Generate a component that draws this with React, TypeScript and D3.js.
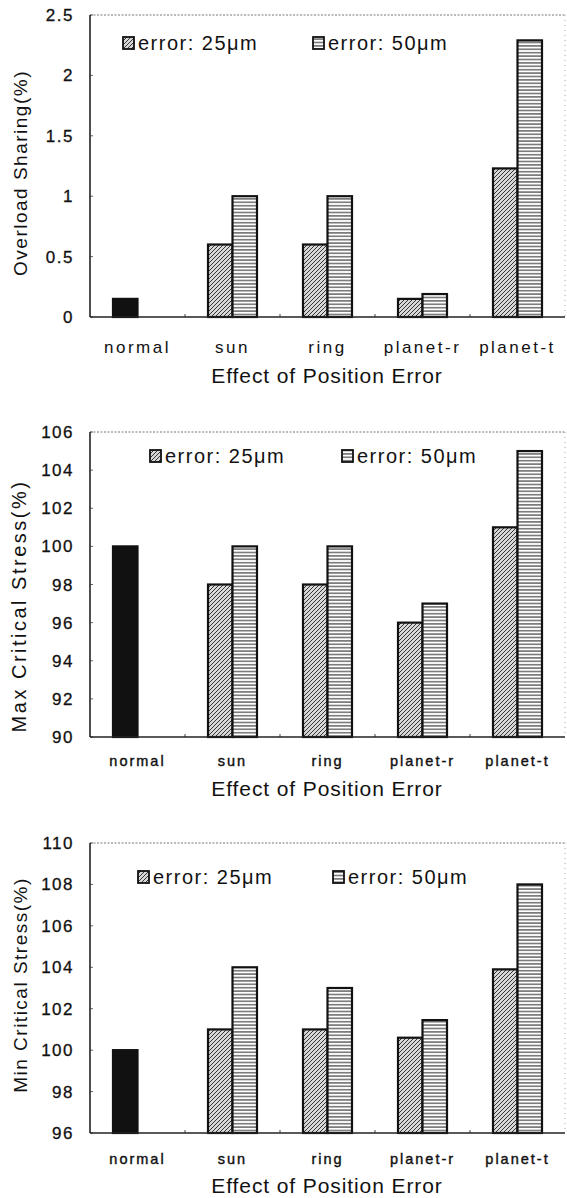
import React from 'react'
import * as d3 from 'd3'

// categories and series
const categories = ['normal', 'sun', 'ring', 'planet-r', 'planet-t']
const seriesLabels = ['error: 25\u03bcm', 'error: 50\u03bcm']

// normal case is drawn as a black bar in the first slot
const overload25 = [0.15, 0.6, 0.6, 0.15, 1.23]
const overload50 = [null, 1.0, 1.0, 0.19, 2.29]
const overloadTicks = [0, 0.5, 1, 1.5, 2, 2.5]

const maxStress25 = [100, 98, 98, 96, 101]
const maxStress50 = [null, 100, 100, 97, 105]
const maxStressTicks = [90, 92, 94, 96, 98, 100, 102, 104, 106]

const minStress25 = [100, 101, 101, 100.6, 103.9]
const minStress50 = [null, 104, 103, 101.45, 108]
const minStressTicks = [96, 98, 100, 102, 104, 106, 108, 110]

const FONT = '"Liberation Sans", Arial, sans-serif'
const LEFT = 90
const RIGHT = 565

type PanelProps = {
  top: number
  bottom: number
  domain: [number, number]
  ticks: number[]
  v25: (number | null)[]
  v50: (number | null)[]
  yTitle: string
  yTitleX: number
  yTitleY: number
  yTitleSize: number
  yTitleSpacing: number
  legendY: number
  legendX: [number, number]
  catSize: number
  catSpacing: number
  catStroke: number
  catY: number
  titleY: number
}

function Panel(p: PanelProps) {
  const x = d3.scaleBand<string>().domain(categories).range([LEFT, RIGHT])
  const y = d3.scaleLinear().domain(p.domain).range([p.bottom, p.top])
  const sub = d3
    .scaleBand<string>()
    .domain(['25', '50'])
    .range([x.bandwidth() / 2 - 24.5, x.bandwidth() / 2 + 24.5])
  const bw = sub.bandwidth()

  const bars: React.ReactNode[] = []
  categories.forEach((c, i) => {
    const a = p.v25[i]
    const b = p.v50[i]
    const x0 = x(c) as number
    if (a != null) {
      bars.push(
        <rect
          key={c + 'a'}
          x={x0 + (sub('25') as number)}
          y={y(a)}
          width={bw}
          height={p.bottom - y(a)}
          fill={i === 0 ? '#111' : `url(#hatch)`}
          stroke="#111"
          strokeWidth={2.2}
        />
      )
    }
    if (b != null) {
      bars.push(
        <rect
          key={c + 'b'}
          x={x0 + (sub('50') as number)}
          y={y(b)}
          width={bw}
          height={p.bottom - y(b)}
          fill="url(#hlines)"
          stroke="#111"
          strokeWidth={2.2}
        />
      )
    }
  })

  return (
    <g>
      {/* frame */}
      <line x1={LEFT} x2={RIGHT} y1={p.top} y2={p.top} stroke="#777" strokeWidth={1} strokeDasharray="2,1.5" />
      <line x1={RIGHT} x2={RIGHT} y1={p.top} y2={p.bottom} stroke="#aaa" strokeWidth={1} strokeDasharray="1,4" />
      {p.ticks.map((t) => (
        <g key={t}>
          <line x1={LEFT} x2={LEFT + 3} y1={y(t)} y2={y(t)} stroke="#666" strokeWidth={1} />
          <text
            x={74}
            y={y(t) + 6}
            textAnchor="end"
            fontSize={17}
            letterSpacing={1.5}
            fill="#111"
            stroke="#111"
            strokeWidth={0.3}
            fontFamily={FONT}
          >
            {String(t)}
          </text>
        </g>
      ))}
      {categories.slice(1).map((c) => (
        <line
          key={c}
          x1={x(c) as number}
          x2={x(c) as number}
          y1={p.bottom}
          y2={p.bottom - 3}
          stroke="#444"
          strokeWidth={1}
        />
      ))}
      {bars}
      <line x1={LEFT} x2={LEFT} y1={p.top} y2={p.bottom} stroke="#222" strokeWidth={1.6} />
      <line x1={LEFT} x2={RIGHT} y1={p.bottom} y2={p.bottom} stroke="#222" strokeWidth={1.6} />

      {/* legend */}
      {seriesLabels.map((s, i) => (
        <g key={s}>
          <rect
            x={p.legendX[i]}
            y={p.legendY - 13}
            width={11}
            height={12}
            fill={i === 0 ? 'url(#hatch)' : 'url(#hlines)'}
            stroke="#111"
            strokeWidth={1.8}
          />
          <text
            x={p.legendX[i] + 15}
            y={p.legendY}
            fontSize={20}
            letterSpacing={1.5}
            fill="#111"
            fontFamily={FONT}
          >
            {s}
          </text>
        </g>
      ))}

      {/* category labels */}
      {categories.map((c) => (
        <text
          key={c}
          x={(x(c) as number) + x.bandwidth() / 2}
          y={p.catY}
          textAnchor="middle"
          fontSize={p.catSize}
          letterSpacing={p.catSpacing}
          fill="#111"
          stroke="#111"
          strokeWidth={p.catStroke}
          fontFamily={FONT}
        >
          {c}
        </text>
      ))}
      <text
        x={327}
        y={p.titleY}
        textAnchor="middle"
        fontSize={21}
        letterSpacing={0.9}
        fill="#111"
        fontFamily={FONT}
      >
        Effect of Position Error
      </text>
      <text
        transform={`translate(${p.yTitleX},${p.yTitleY}) rotate(-90)`}
        textAnchor="middle"
        fontSize={p.yTitleSize}
        letterSpacing={p.yTitleSpacing}
        fill="#111"
        fontFamily={FONT}
      >
        {p.yTitle}
      </text>
    </g>
  )
}

export default function App() {
  return (
    <svg
      width={567}
      height={1198}
      style={{ position: 'absolute', left: 0, top: 0, background: '#fff' }}
    >
      <defs>
        <pattern id="hatch" width={4} height={4} patternUnits="userSpaceOnUse">
          <rect width={4} height={4} fill="#d8d8d8" />
          <path d="M-1,1 L1,-1 M0,4 L4,0 M3,5 L5,3" stroke="#222" strokeWidth={0.9} />
        </pattern>
        <pattern id="hlines" width={4} height={3.4} patternUnits="userSpaceOnUse">
          <rect width={4} height={3.4} fill="#fff" />
          <line x1={0} x2={4} y1={1.7} y2={1.7} stroke="#222" strokeWidth={1} />
        </pattern>
      </defs>
      <Panel
        top={15}
        bottom={317}
        domain={[0, 2.5]}
        ticks={overloadTicks}
        v25={overload25}
        v50={overload50}
        yTitle="Overload Sharing(%)"
        yTitleX={27}
        yTitleY={173}
        yTitleSize={19}
        yTitleSpacing={1.5}
        legendY={50}
        legendX={[123, 313]}
        catSize={17}
        catSpacing={2.5}
        catStroke={0}
        catY={353}
        titleY={383}
      />
      <Panel
        top={432}
        bottom={737}
        domain={[90, 106]}
        ticks={maxStressTicks}
        v25={maxStress25}
        v50={maxStress50}
        yTitle="Max Critical Stress(%)"
        yTitleX={26}
        yTitleY={606}
        yTitleSize={20}
        yTitleSpacing={2.5}
        legendY={463}
        legendX={[150, 342]}
        catSize={14.5}
        catSpacing={2}
        catStroke={0.4}
        catY={766}
        titleY={796}
      />
      <Panel
        top={843}
        bottom={1133}
        domain={[96, 110]}
        ticks={minStressTicks}
        v25={minStress25}
        v50={minStress50}
        yTitle="Min Critical Stress(%)"
        yTitleX={27}
        yTitleY={985}
        yTitleSize={19}
        yTitleSpacing={1.5}
        legendY={884}
        legendX={[138, 333]}
        catSize={14.5}
        catSpacing={2}
        catStroke={0.4}
        catY={1164}
        titleY={1193}
      />
    </svg>
  )
}
